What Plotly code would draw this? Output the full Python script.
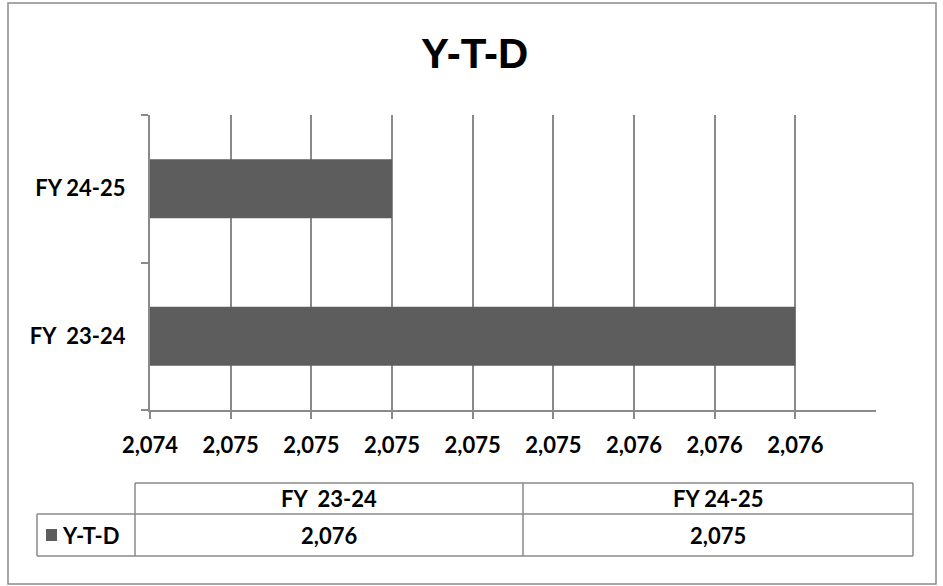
import plotly.graph_objects as go

# Data
categories = ["FY  23-24", "FY 24-25"]
ytd_values = [2076.0, 2075.0]
series_name = "Y-T-D"
x_tickvals = [2074.4, 2074.6, 2074.8, 2075.0, 2075.2, 2075.4, 2075.6, 2075.8, 2076.0]
x_range = [2074.4, 2076.2]

W, H = 943, 586
ML, MR, MT, MB = 150, 67, 115, 176
PW, PH = W - ML - MR, H - MT - MB

BAR = "#5d5d5d"
GRID = "#8a8a8a"
FONT = "Lato, 'Open Sans', Arial, sans-serif"
FS = 22


def px(x):
    return (x - ML) / PW


def py(y):
    return (H - MB - y) / PH


# bars are drawn from the axis minimum, so length = value - min
fig = go.Figure(
    go.Bar(
        y=categories,
        x=[v - x_range[0] for v in ytd_values],
        base=x_range[0],
        orientation="h",
        marker=dict(color=BAR, line=dict(width=0)),
        name=series_name,
        showlegend=False,
    )
)

shapes = []
annotations = []

# outer chart border
shapes.append(dict(type="rect", xref="paper", yref="paper",
                   x0=px(8), x1=px(936), y0=py(3), y1=py(584),
                   line=dict(color=GRID, width=1.5), layer="below"))

# data table grid
t_left, t_legend, t_mid, t_right = 135, 37, 523, 913
r_top, r_mid, r_bot = 483, 514, 556


def hline(x0, x1, y):
    shapes.append(dict(type="line", xref="paper", yref="paper",
                       x0=px(x0), x1=px(x1), y0=py(y), y1=py(y),
                       line=dict(color=GRID, width=1.5)))


def vline(x, y0, y1):
    shapes.append(dict(type="line", xref="paper", yref="paper",
                       x0=px(x), x1=px(x), y0=py(y0), y1=py(y1),
                       line=dict(color=GRID, width=1.5)))


hline(t_left, t_right, r_top)
hline(t_legend, t_right, r_mid)
hline(t_legend, t_right, r_bot)
vline(t_legend, r_mid, r_bot)
vline(t_left, r_top, r_bot)
vline(t_mid, r_top, r_bot)
vline(t_right, r_top, r_bot)

# legend key square
shapes.append(dict(type="rect", xref="paper", yref="paper",
                   x0=px(46), x1=px(57), y0=py(529), y1=py(541),
                   fillcolor=BAR, line=dict(width=0)))

cell_font = dict(family=FONT, size=FS, color="#000000", weight="bold")
col_centers = [(t_left + t_mid) / 2, (t_mid + t_right) / 2]
for cx, cat, val in zip(col_centers, categories, ytd_values):
    annotations.append(dict(xref="paper", yref="paper", x=px(cx), y=py(498.5),
                            text=cat, showarrow=False,
                            xanchor="center", yanchor="middle", font=cell_font))
    annotations.append(dict(xref="paper", yref="paper", x=px(cx), y=py(535),
                            text=f"{val:,.0f}", showarrow=False,
                            xanchor="center", yanchor="middle", font=cell_font))
annotations.append(dict(xref="paper", yref="paper", x=px(60), y=py(535),
                        text=series_name, showarrow=False,
                        xanchor="left", yanchor="middle", font=cell_font))

# title
annotations.append(dict(xref="paper", yref="paper", x=px(474), y=py(54),
                        text=series_name, showarrow=False,
                        xanchor="center", yanchor="middle",
                        font=dict(family="'Liberation Sans', Arial, sans-serif",
                                  size=42, color="#000000", weight="bold")))

fig.update_layout(
    width=W, height=H,
    margin=dict(l=ML, r=MR, t=MT, b=MB),
    paper_bgcolor="white", plot_bgcolor="white",
    bargap=0.6,
    shapes=shapes,
    annotations=annotations,
    xaxis=dict(
        range=x_range,
        tickvals=x_tickvals,
        tickformat=",.0f",
        showgrid=True, gridcolor=GRID, gridwidth=2,
        showline=True, linecolor=GRID, linewidth=2,
        ticks="outside", tickcolor=GRID, ticklen=7, tickwidth=2,
        tickfont=dict(family=FONT, size=FS, color="#000000", weight="bold"),
        ticklabelstandoff=8,
        zeroline=False,
    ),
    yaxis=dict(
        type="category",
        categoryorder="array", categoryarray=categories,
        showgrid=False,
        showline=True, linecolor=GRID, linewidth=2,
        ticks="outside", tickson="boundaries", tickcolor=GRID, ticklen=7, tickwidth=2,
        tickfont=dict(family=FONT, size=FS, color="#000000", weight="bold"),
        ticklabelstandoff=18,
    ),
)

fig.write_html("out.html")
